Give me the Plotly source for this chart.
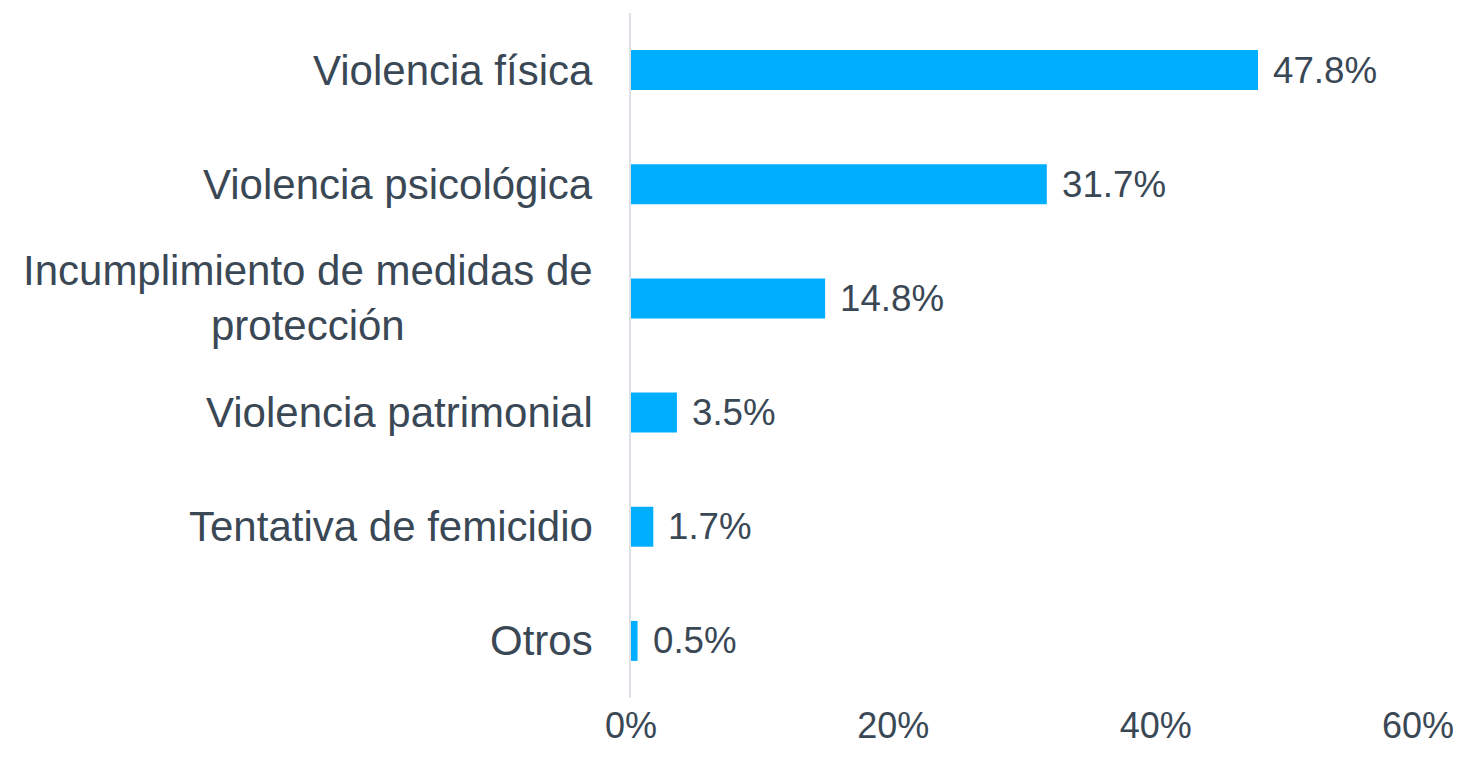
import plotly.graph_objects as go

categories = [
    "Violencia física",
    "Violencia psicológica",
    "Incumplimiento de medidas de<br>protección",
    "Violencia patrimonial",
    "Tentativa de femicidio",
    "Otros",
]
values = [47.8, 31.7, 14.8, 3.5, 1.7, 0.5]
tick_vals = [0, 20, 40, 60]
tick_text = ["0%", "20%", "40%", "60%"]

TEXT = "#3a4856"
BAR = "#00AEFF"
FONT = "Liberation Sans, Arial, sans-serif"

fig = go.Figure()
fig.add_trace(go.Bar(
    x=values,
    y=categories,
    orientation="h",
    marker=dict(color=BAR, line=dict(width=0)),
    hoverinfo="x+y",
))

annotations = []
for c, v in zip(categories, values):
    annotations.append(dict(
        x=v, y=c, xref="x", yref="y", text=f"{v:.1f}%",
        showarrow=False, xanchor="left", yanchor="middle", xshift=13,
        font=dict(size=36.7, color=TEXT, family=FONT),
    ))
    annotations.append(dict(
        x=0, y=c, xref="paper", yref="y", text=c,
        showarrow=False, xanchor="right", yanchor="middle", xshift=-36,
        align="center",
        font=dict(size=42, color=TEXT, family=FONT),
    ))

fig.update_layout(
    width=1447, height=743,
    margin=dict(l=623, r=37, t=5, b=53, autoexpand=False),
    paper_bgcolor="white", plot_bgcolor="white",
    bargap=0.65,
    showlegend=False,
    font=dict(family=FONT, color=TEXT),
    annotations=annotations,
    xaxis=dict(
        range=[0, 60], tickvals=tick_vals, ticktext=tick_text,
        showgrid=False, zeroline=False, showline=False,
        tickfont=dict(size=36, color=TEXT, family=FONT),
        ticklabelstandoff=3, automargin=False, ticklabeloverflow="allow",
    ),
    yaxis=dict(
        autorange="reversed", showticklabels=False, showgrid=False,
        zeroline=False, showline=True, linecolor="#dde1e6", linewidth=2,
        ticks="", automargin=False,
    ),
)

fig.write_html("out.html")
